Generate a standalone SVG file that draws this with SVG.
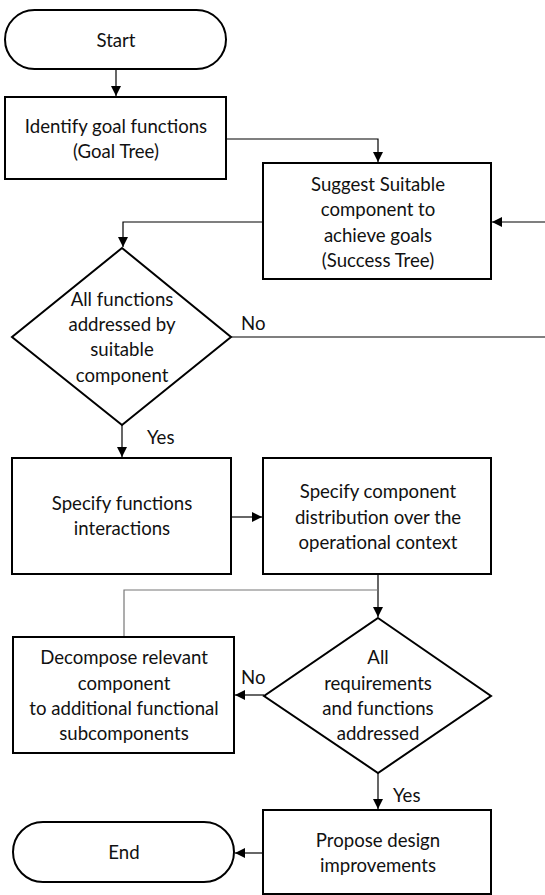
<svg xmlns="http://www.w3.org/2000/svg" width="545" height="895" viewBox="0 0 545 895">
  <defs>
    <marker id="arrow" viewBox="0 0 10 10" refX="10" refY="5" markerWidth="10" markerHeight="10" markerUnits="userSpaceOnUse" orient="auto">
      <path d="M0,0 L10,5 L0,10 z" fill="#000"/>
    </marker>
    <style>
      .shape { fill: #fff; stroke: #000; stroke-width: 2; }
      .link { fill: none; stroke: #000; stroke-width: 1.2; }
      .link-grey { fill: none; stroke: #777; stroke-width: 1.2; }
      text { font-family: Lato, "Open Sans", "Liberation Sans", sans-serif; font-size: 18.6px; fill: #111; text-anchor: middle; }
      .lbl { text-anchor: start; }
    </style>
  </defs>
  <rect width="545" height="895" fill="#fff"/>

  <!-- connectors -->
  <g id="connectors">
    <path class="link" d="M116,69 V96" marker-end="url(#arrow)"/>
    <path class="link" d="M226,139 H378 V162" marker-end="url(#arrow)"/>
    <path class="link" d="M545,222 H492" marker-end="url(#arrow)"/>
    <path class="link" d="M263,222 H123 V247" marker-end="url(#arrow)"/>
    <path class="link" d="M231,337 H545"/>
    <path class="link" d="M122,425 V457" marker-end="url(#arrow)"/>
    <path class="link" d="M231,517 H262" marker-end="url(#arrow)"/>
    <path class="link" d="M378,574 V617" marker-end="url(#arrow)"/>
    <path class="link-grey" d="M124,637 V590 H378"/>
    <path class="link" d="M264,695 H235" marker-end="url(#arrow)"/>
    <path class="link" d="M378,773 V809" marker-end="url(#arrow)"/>
    <path class="link" d="M263,853 H235" marker-end="url(#arrow)"/>
    <text class="lbl" x="241" y="330">No</text>
    <text class="lbl" x="147" y="444">Yes</text>
    <text class="lbl" x="241" y="684">No</text>
    <text class="lbl" x="393" y="802">Yes</text>
  </g>

  <g id="start">
    <rect class="shape" x="5" y="10" width="221" height="59" rx="29.5" ry="29.5"/>
    <text x="116" y="47">Start</text>
  </g>

  <g id="identify-goals">
    <rect class="shape" x="5" y="97" width="221" height="82"/>
    <text x="116" y="133">Identify goal functions</text>
    <text x="116" y="158">(Goal Tree)</text>
  </g>

  <g id="suggest-component">
    <rect class="shape" x="263" y="163" width="228" height="116"/>
    <text x="378" y="191">Suggest Suitable</text>
    <text x="378" y="216">component to</text>
    <text x="378" y="242">achieve goals</text>
    <text x="378" y="267">(Success Tree)</text>
  </g>

  <g id="functions-addressed">
    <polygon class="shape" points="122,248 231,337 122,425 12,337"/>
    <text x="122" y="306">All functions</text>
    <text x="122" y="331">addressed by</text>
    <text x="122" y="356">suitable</text>
    <text x="122" y="382">component</text>
  </g>

  <g id="function-interactions">
    <rect class="shape" x="12" y="458" width="219" height="116"/>
    <text x="122" y="510">Specify functions</text>
    <text x="122" y="535">interactions</text>
  </g>

  <g id="component-distribution">
    <rect class="shape" x="263" y="458" width="228" height="116"/>
    <text x="378" y="498">Specify component</text>
    <text x="378" y="524">distribution over the</text>
    <text x="378" y="549">operational context</text>
  </g>

  <g id="requirements-addressed">
    <polygon class="shape" points="378,618 491,696 378,773 264,696"/>
    <text x="378" y="664">All</text>
    <text x="378" y="690">requirements</text>
    <text x="378" y="715">and functions</text>
    <text x="378" y="740">addressed</text>
  </g>

  <g id="decompose-component">
    <rect class="shape" x="13" y="637" width="221" height="116"/>
    <text x="124" y="664">Decompose relevant</text>
    <text x="124" y="690">component</text>
    <text x="124" y="715">to additional functional</text>
    <text x="124" y="740">subcomponents</text>
  </g>

  <g id="design-improvements">
    <rect class="shape" x="263" y="810" width="228" height="84"/>
    <text x="378" y="847">Propose design</text>
    <text x="378" y="872">improvements</text>
  </g>

  <g id="end">
    <rect class="shape" x="13" y="822" width="221" height="60" rx="30" ry="30"/>
    <text x="124" y="859">End</text>
  </g>
</svg>
